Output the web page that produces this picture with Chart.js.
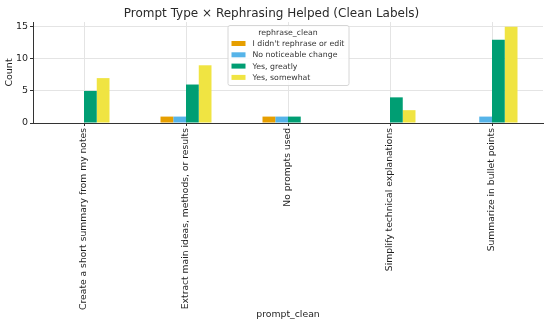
<!DOCTYPE html>
<html>
<head>
<meta charset="utf-8">
<script src="https://cdn.jsdelivr.net/npm/chart.js@4/dist/chart.umd.min.js"></script>
<style>
  html, body { margin: 0; padding: 0; background: #fff; }
  #wrap { width: 550px; height: 324px; }
</style>
</head>
<body>
<div id="wrap"><canvas id="promptChart" width="550" height="324"></canvas></div>
<script>
const categories = [
  "Create a short summary from my notes",
  "Extract main ideas, methods, or results",
  "No prompts used",
  "Simplify technical explanations",
  "Summarize in bullet points"
];
const seriesNames = ["I didn't rephrase or edit", "No noticeable change", "Yes, greatly", "Yes, somewhat"];
const didntRephrase = [0, 1, 1, 0, 0];
const noChange = [0, 1, 1, 0, 1];
const yesGreatly = [5, 6, 1, 4, 13];
const yesSomewhat = [7, 9, 0, 2, 15];
const yTicks = [0, 5, 10, 15];

const colors = ["#E69F00", "#56B4E9", "#009E73", "#F0E442"];
const font = "'DejaVu Sans', sans-serif";

// legend drawn inside the plot, like the matplotlib one
const legendBox = {
  id: 'legendBox',
  afterDatasetsDraw(chart) {
    const ctx = chart.ctx;
    const area = chart.chartArea;
    const w = 121, h = 60;
    const x = (area.left + area.right) / 2 - w / 2;
    const y = area.top + 3;
    ctx.save();
    ctx.fillStyle = 'rgba(255,255,255,0.85)';
    ctx.strokeStyle = '#d6d6d6';
    ctx.lineWidth = 1;
    ctx.beginPath();
    ctx.roundRect(x + 0.5, y + 0.5, w, h, 2);
    ctx.fill();
    ctx.stroke();

    ctx.fillStyle = '#333';
    ctx.font = "7.8px " + font;
    ctx.textAlign = 'center';
    ctx.textBaseline = 'middle';
    ctx.fillText('rephrase_clean', x + w / 2, y + 8);

    ctx.textAlign = 'left';
    chart.data.datasets.forEach((ds, i) => {
      const rowY = y + 18.5 + i * 11.3;
      ctx.fillStyle = ds.backgroundColor;
      ctx.fillRect(x + 4, rowY - 2.5, 14, 5);
      ctx.fillStyle = '#333';
      ctx.fillText(ds.label, x + 25, rowY + 0.5);
    });
    ctx.restore();
  }
};

new Chart(document.getElementById('promptChart'), {
  type: 'bar',
  data: {
    labels: categories,
    datasets: [
      { label: seriesNames[0], data: didntRephrase, backgroundColor: colors[0] },
      { label: seriesNames[1], data: noChange, backgroundColor: colors[1] },
      { label: seriesNames[2], data: yesGreatly, backgroundColor: colors[2] },
      { label: seriesNames[3], data: yesSomewhat, backgroundColor: colors[3] }
    ]
  },
  options: {
    responsive: false,
    animation: false,
    categoryPercentage: 0.5,
    barPercentage: 1,
    layout: { padding: { top: 0, right: 7, left: 0, bottom: 2 } },
    plugins: {
      legend: { display: false },
      tooltip: { enabled: false },
      title: {
        display: true,
        text: 'Prompt Type \u00d7 Rephrasing Helped (Clean Labels)',
        color: '#2a2a2a',
        font: { family: font, size: 12, weight: 'normal' },
        padding: { top: 6.3, bottom: 1.3 }
      }
    },
    scales: {
      x: {
        // the long rotated labels need more than half the canvas
        afterFit(scale) { scale.height = 199; },
        grid: {
          offset: false,
          color: '#e4e4e4',
          borderDash: [3, 3],
          tickLength: 3,
          tickColor: '#333',
          tickBorderDash: []
        },
        border: { display: true, color: '#333', width: 1 },
        ticks: {
          minRotation: 90,
          maxRotation: 90,
          autoSkip: false,
          color: '#1e1e1e',
          padding: 2,
          font: { family: font, size: 9.2 }
        },
        title: {
          display: true,
          text: 'prompt_clean',
          color: '#1e1e1e',
          font: { family: font, size: 9.3 },
          padding: { top: 4, bottom: 2 }
        }
      },
      y: {
        min: 0,
        max: 15.75,
        afterBuildTicks(scale) {
          scale.ticks = yTicks.map(v => ({ value: v }));
        },
        afterFit(scale) { scale.width = 33; },
        grid: {
          color: '#e4e4e4',
          borderDash: [3, 3],
          tickLength: 3,
          tickColor: '#333',
          tickBorderDash: []
        },
        border: { display: true, color: '#333', width: 1 },
        ticks: {
          color: '#1e1e1e',
          padding: 2,
          font: { family: font, size: 9.5 }
        },
        title: {
          display: true,
          text: 'Count',
          color: '#1e1e1e',
          font: { family: font, size: 9.5 },
          padding: { top: 4, bottom: 0 }
        }
      }
    }
  },
  plugins: [legendBox]
});
</script>
</body>
</html>
